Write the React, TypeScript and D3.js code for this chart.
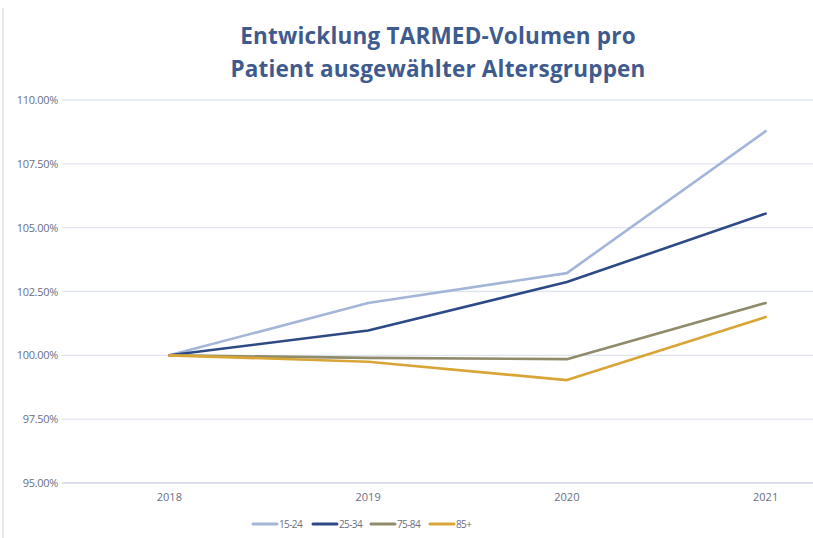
import { useEffect, useRef } from "react";
import * as d3 from "d3";

// data
const years = ["2018", "2019", "2020", "2021"];
const seriesNames = ["15-24", "25-34", "75-84", "85+"];
const vals1524 = [100.0, 102.05, 103.22, 108.78];
const vals2534 = [100.0, 100.97, 102.87, 105.55];
const vals7584 = [100.0, 99.9, 99.85, 102.05];
const vals85 = [100.0, 99.75, 99.03, 101.5];
const yTicks = [95, 97.5, 100, 102.5, 105, 107.5, 110];
const colors = ["#a3b6d8", "#2e4a86", "#8f8b6b", "#d9a536"];

const W = 813;
const H = 538;

const App = () => {
  const svgRef = useRef<SVGSVGElement | null>(null);

  useEffect(() => {
    document.body.style.margin = "0";
    const svg = d3.select(svgRef.current);
    svg.selectAll("*").remove();

    const font = "'Open Sans', sans-serif";
    const allSeries = [vals1524, vals2534, vals7584, vals85];

    svg.append("rect").attr("width", W).attr("height", H).attr("fill", "#fff");

    // left border of chart area
    svg
      .append("line")
      .attr("x1", 3)
      .attr("x2", 3)
      .attr("y1", 8)
      .attr("y2", H)
      .attr("stroke", "#dde3ef")
      .attr("stroke-width", 1.5);

    const x = d3.scalePoint().domain(years).range([70, 865]).padding(0.5);
    const y = d3.scaleLinear().domain([95, 110]).range([483, 100]);

    ///////// title /////////
    const title = svg
      .append("text")
      .attr("text-anchor", "middle")
      .attr("font-family", font)
      .attr("font-weight", 700)
      .attr("font-size", 22.5)
      .attr("letter-spacing", 0.2)
      .attr("fill", "#3f5b8e");
    title.append("tspan").attr("x", 438).attr("y", 44).text("Entwicklung TARMED-Volumen pro");
    title.append("tspan").attr("x", 438).attr("y", 77).text("Patient ausgewählter Altersgruppen");

    ///////// grid + y labels /////////
    const grid = svg.append("g");
    grid
      .selectAll("line")
      .data(yTicks)
      .enter()
      .append("line")
      .attr("x1", 62)
      .attr("x2", W)
      .attr("y1", (d) => y(d))
      .attr("y2", (d) => y(d))
      .attr("stroke", (d) => (d === 95 ? "#cfd6e6" : "#dfe4ef"))
      .attr("stroke-width", 1.3);

    grid
      .selectAll("text")
      .data(yTicks)
      .enter()
      .append("text")
      .attr("x", 58)
      .attr("y", (d) => y(d) + 4)
      .attr("text-anchor", "end")
      .attr("font-family", font)
      .attr("font-size", 11)
      .attr("letter-spacing", -0.3)
      .attr("fill", "#6a6f82")
      .text((d) => d3.format(".2f")(d) + "%");

    ///////// x labels /////////
    svg
      .append("g")
      .selectAll("text")
      .data(years)
      .enter()
      .append("text")
      .attr("x", (d) => x(d) as number)
      .attr("y", 501)
      .attr("text-anchor", "middle")
      .attr("font-family", font)
      .attr("font-size", 11)
      .attr("fill", "#6a6f82")
      .text((d) => d);

    ///////// lines /////////
    const line = d3
      .line<number>()
      .x((_, i) => x(years[i]) as number)
      .y((d) => y(d));

    svg
      .append("g")
      .selectAll("path")
      .data(allSeries)
      .enter()
      .append("path")
      .attr("d", (d) => line(d))
      .attr("fill", "none")
      .attr("stroke", (_, i) => colors[i])
      .attr("stroke-width", 2.6)
      .attr("stroke-linejoin", "round")
      .attr("stroke-linecap", "round");

    ///////// legend /////////
    const legendX = [253, 313, 371, 430];
    const lg = svg
      .append("g")
      .selectAll("g")
      .data(seriesNames)
      .enter()
      .append("g")
      .attr("transform", (_, i) => `translate(${legendX[i]},524)`);
    lg.append("line")
      .attr("x1", 0)
      .attr("x2", 24)
      .attr("stroke", (_, i) => colors[i])
      .attr("stroke-width", 3)
      .attr("stroke-linecap", "round");
    lg.append("text")
      .attr("x", 26)
      .attr("y", 4)
      .attr("font-family", font)
      .attr("font-size", 10)
      .attr("letter-spacing", -0.6)
      .attr("fill", "#6a6f82")
      .text((d) => d);
  }, []);

  return <svg ref={svgRef} width={W} height={H} style={{ display: "block" }}></svg>;
};

export default App;
